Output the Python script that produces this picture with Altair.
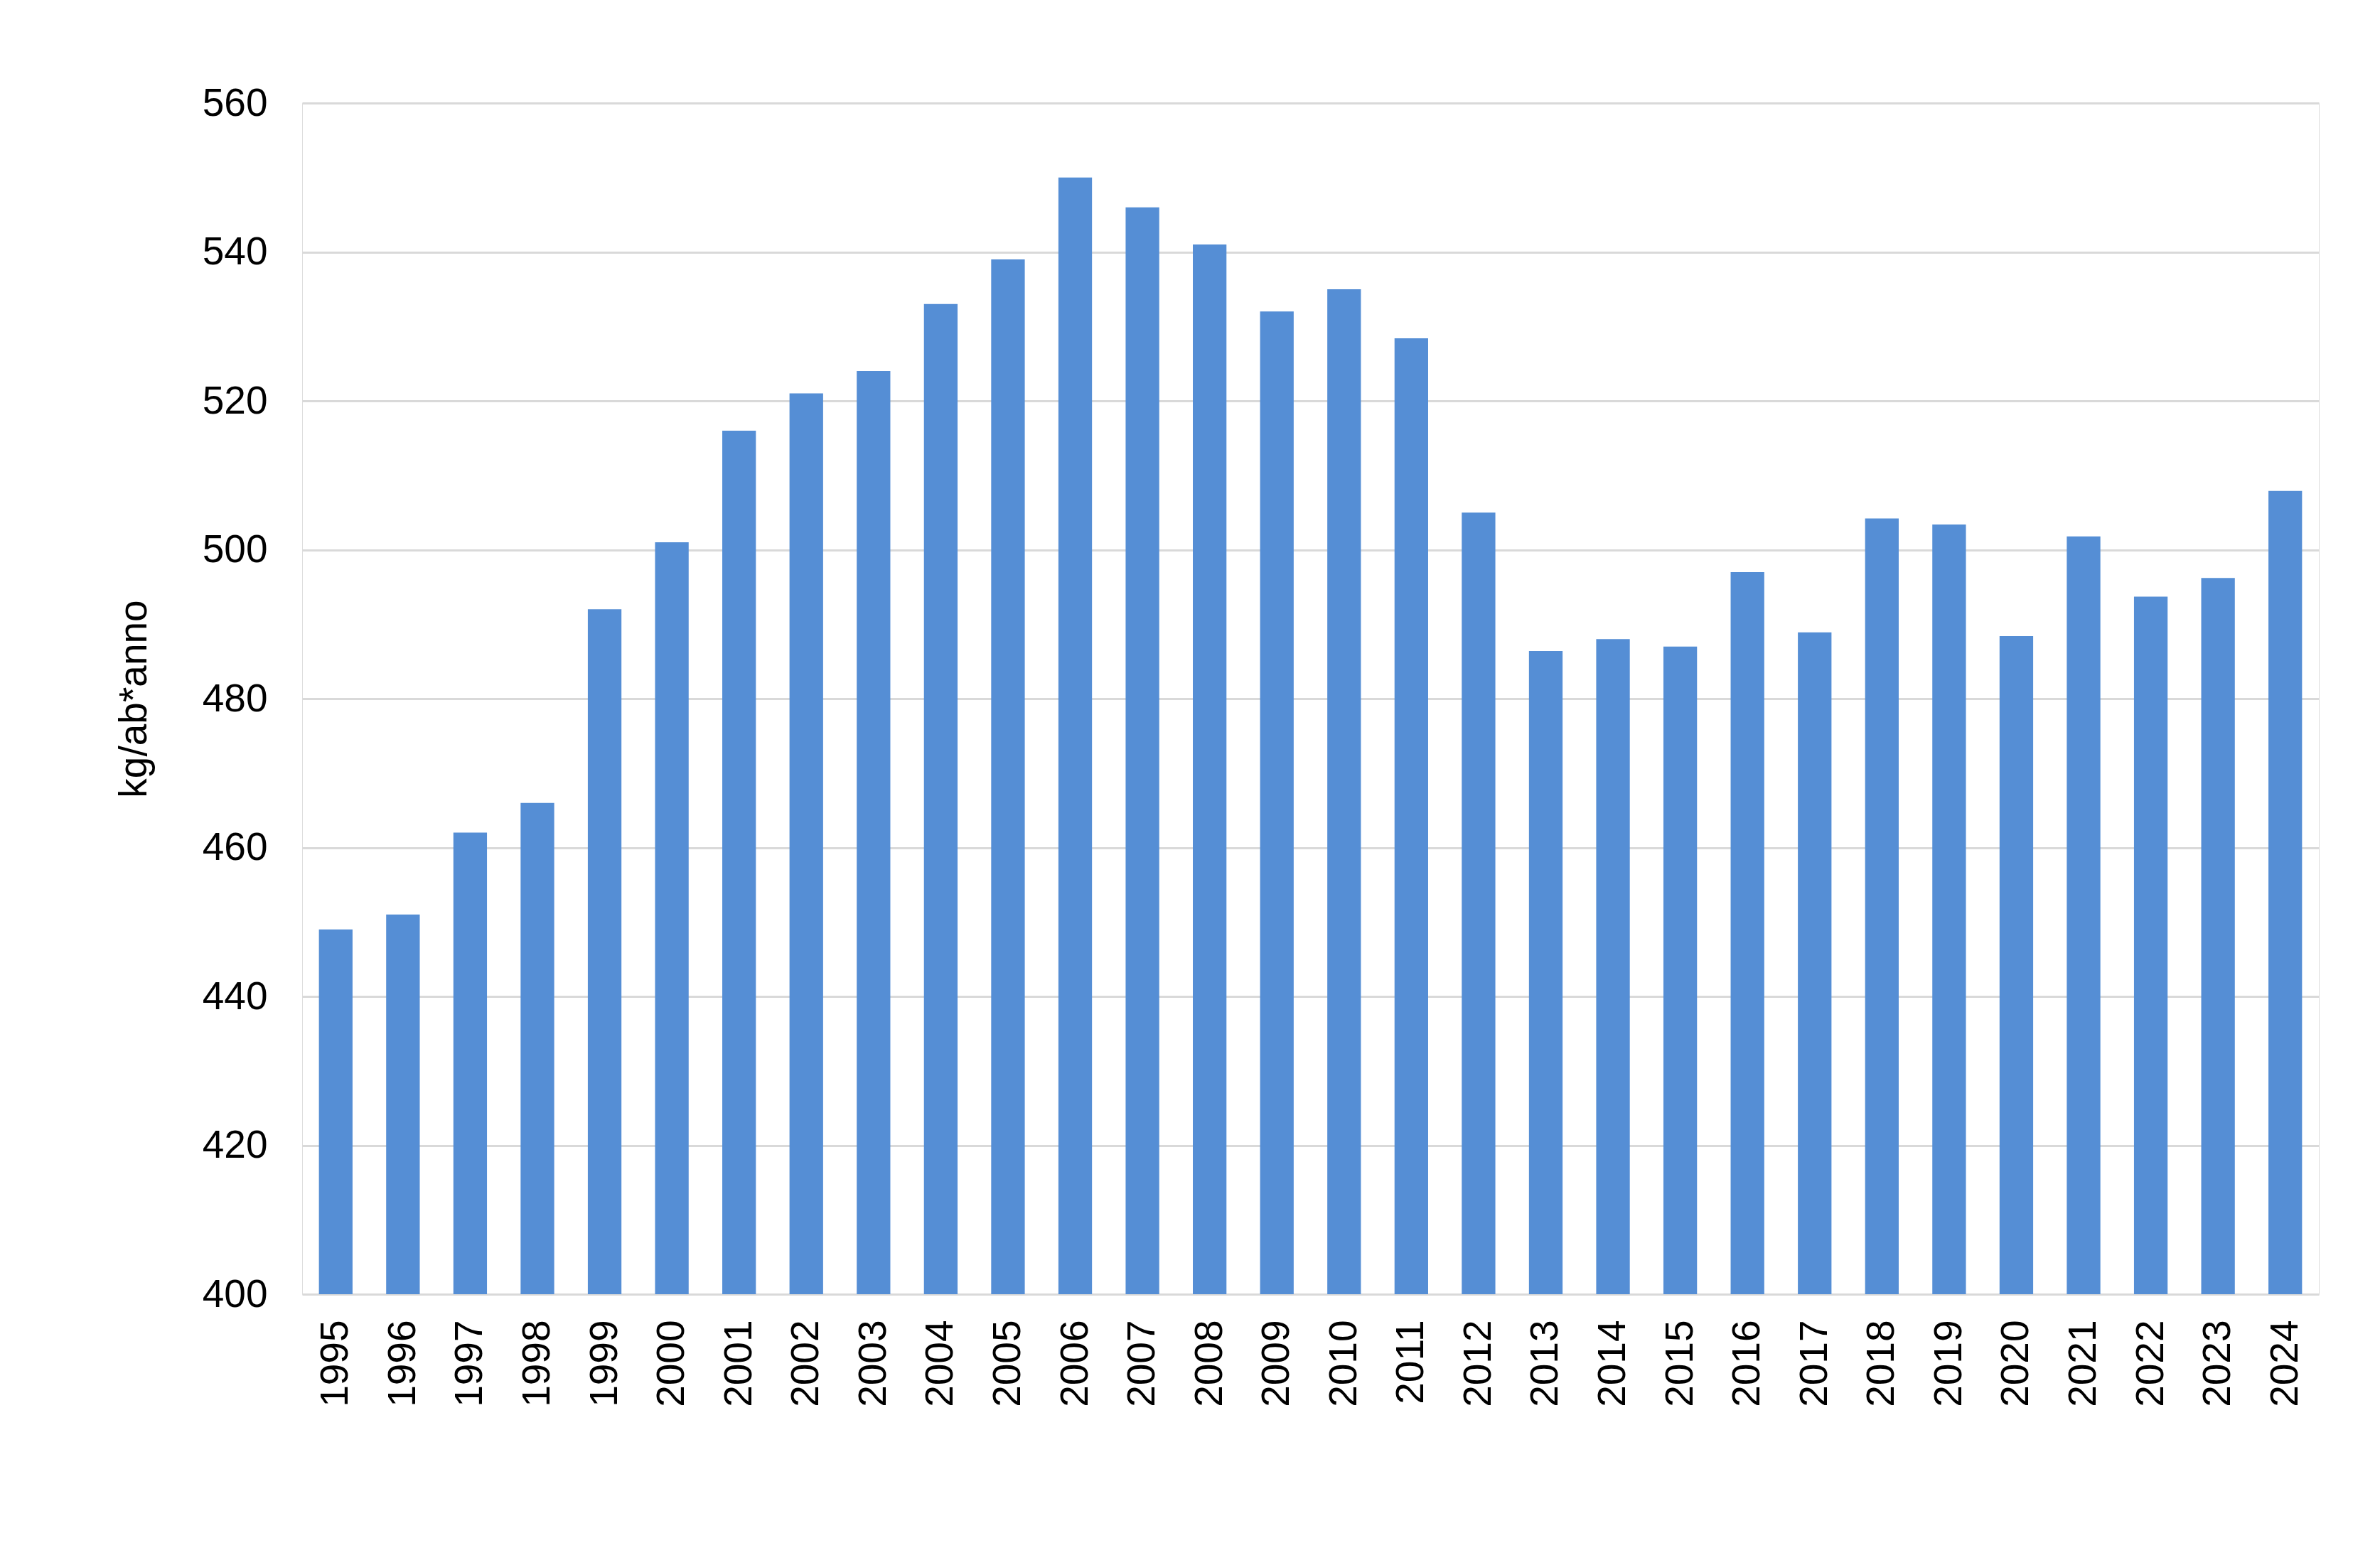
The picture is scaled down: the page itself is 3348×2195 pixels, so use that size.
import altair as alt
import pandas as pd

years = [str(y) for y in range(1995, 2025)]
values = [449, 451, 462, 466, 492, 501, 516, 521, 524, 533,
          539, 550, 546, 541, 532, 535, 528.4, 505, 486.4, 488,
          487, 497, 488.9, 504.2, 503.4, 488.4, 501.8, 493.7, 496.2, 507.9]
y_ticks = [400, 420, 440, 460, 480, 500, 520, 540, 560]
y_title = "kg/ab*anno"

df = pd.DataFrame({"anno": years, "valore": values})

FONT = "Liberation Sans"

chart = alt.Chart(df).mark_bar(color="#558ED5").encode(
    x=alt.X("anno:N", sort=years,
            scale=alt.Scale(paddingInner=0.5, paddingOuter=0.25),
            axis=alt.Axis(title=None, labelAngle=270, labelPadding=36,
                          ticks=False, domain=False, grid=False,
                          labelFontSize=55, labelFont=FONT, labelColor="#000000")),
    y=alt.Y("valore:Q",
            scale=alt.Scale(domain=[400, 560], zero=False, nice=False),
            axis=alt.Axis(title=y_title, values=y_ticks, ticks=False, domain=False,
                          grid=True, gridColor="#D9D9D9", gridWidth=3,
                          labelFontSize=55, labelFont=FONT, labelColor="#000000",
                          labelPadding=49,
                          titleFontSize=55, titleFont=FONT, titleColor="#000000",
                          titleFontWeight="normal", titleAngle=270,
                          titleX=-220, titleY=838, titleAlign="center",
                          titleBaseline="alphabetic")),
    y2=alt.datum(400),
).properties(
    width=2837,
    height=1676,
    autosize=alt.AutoSizeParams(type="none"),
    padding={"left": 417, "top": 137, "right": 78, "bottom": 366},
).configure_view(strokeWidth=0, strokeOpacity=0).configure(background="#FFFFFF")

chart.save("out.html", embed_options={"renderer": "svg", "actions": False})
